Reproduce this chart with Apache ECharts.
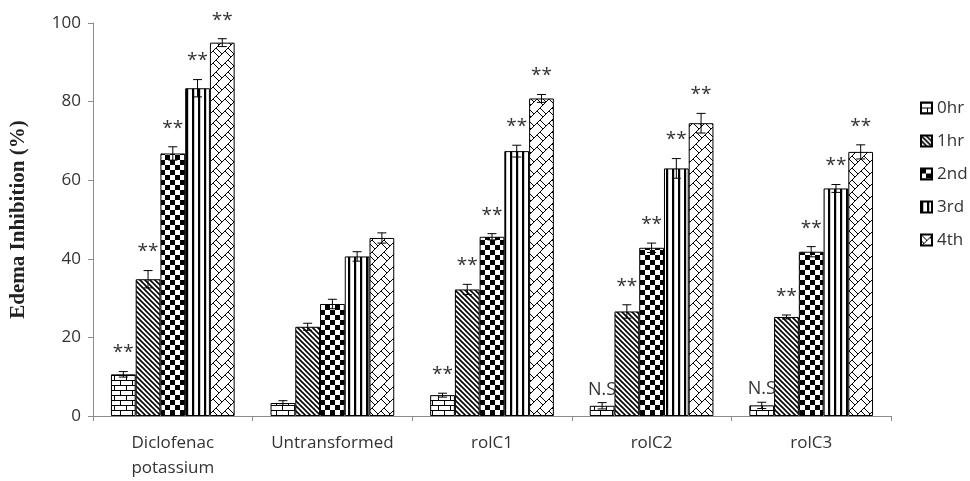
<!DOCTYPE html>
<html><head><meta charset="utf-8">
<script src="https://cdn.jsdelivr.net/npm/echarts@6/dist/echarts.min.js"></script>
<style>html,body{margin:0;padding:0;background:#fff}#c{width:970px;height:481px}</style>
</head><body><div id="c"></div>
<script>
// ---- data ----
const categories = ['Diclofenac\npotassium', 'Untransformed', 'rolC1', 'rolC2', 'rolC3'];
const seriesNames = ['0hr', '1hr', '2nd', '3rd', '4th'];
const v0hr = [10.6, 3.3, 5.3, 2.6, 2.7];
const v1hr = [34.8, 22.7, 32.2, 26.6, 25.2];
const v2nd = [66.8, 28.5, 45.6, 42.8, 41.8];
const v3rd = [83.4, 40.6, 67.4, 63.0, 57.9];
const v4th = [95.0, 45.3, 80.8, 74.5, 67.2];
const e0hr = [0.7, 0.6, 0.5, 0.8, 0.8];
const e1hr = [2.2, 0.9, 1.3, 1.7, 0.5];
const e2nd = [1.7, 1.2, 0.8, 1.2, 1.3];
const e3rd = [2.2, 1.2, 1.5, 2.5, 1.0];
const e4th = [1.0, 1.3, 1.0, 2.5, 1.8];
const s0hr = ['**', '', '**', 'N.S', 'N.S'];
const s1hr = ['**', '', '**', '**', '**'];
const s2nd = ['**', '', '**', '**', '**'];
const s3rd = ['**', '', '**', '**', '**'];
const s4th = ['**', '', '**', '**', '**'];
const yTicks = [0, 20, 40, 60, 80, 100];

const values = [v0hr, v1hr, v2nd, v3rd, v4th];
const errors = [e0hr, e1hr, e2nd, e3rd, e4th];
const sigs = [s0hr, s1hr, s2nd, s3rd, s4th];

// ---- patterns ----
function pat(w, h, draw) {
  const c = document.createElement('canvas');
  c.width = w; c.height = h;
  const g = c.getContext('2d');
  g.fillStyle = '#fff'; g.fillRect(0, 0, w, h);
  g.strokeStyle = '#000'; g.fillStyle = '#000';
  draw(g, w, h);
  return c;
}
const patterns = [
  pat(12, 10, (g) => { // brick
    g.lineWidth = 1;
    g.beginPath();
    g.moveTo(0, 0.5); g.lineTo(12, 0.5);
    g.moveTo(0, 5.5); g.lineTo(12, 5.5);
    g.moveTo(0.5, 0); g.lineTo(0.5, 5.5);
    g.moveTo(6.5, 5.5); g.lineTo(6.5, 10);
    g.stroke();
  }),
  pat(5, 5, (g) => { // downward diagonal
    g.lineWidth = 1.6;
    g.beginPath();
    g.moveTo(-1, -1); g.lineTo(6, 6);
    g.moveTo(-1, 4); g.lineTo(1, 6);
    g.moveTo(4, -1); g.lineTo(6, 1);
    g.stroke();
  }),
  pat(10, 10, (g) => { // checker
    g.fillRect(0, 0, 5, 5); g.fillRect(5, 5, 5, 5);
  }),
  pat(6, 6, (g) => { // vertical stripes
    g.fillRect(0, 0, 2.2, 6);
  }),
  pat(12, 12, (g) => { // diagonal brick
    g.lineWidth = 1;
    g.beginPath();
    for (const ox of [-12, 0, 12]) for (const oy of [-12, 0, 12]) {
      g.moveTo(0 + ox, 12 + oy); g.lineTo(12 + ox, 0 + oy);
      g.moveTo(0 + ox, 0 + oy); g.lineTo(6 + ox, 6 + oy);
      g.moveTo(9 + ox, 3 + oy); g.lineTo(15 + ox, 9 + oy);
    }
    g.stroke();
  })
];

const FONT = 'Open Sans';
const CAT_GAP = 0.225;

const series = [];
seriesNames.forEach((name, si) => {
  series.push({
    name: name, type: 'bar',
    data: values[si],
    barCategoryGap: (CAT_GAP * 100) + '%', barGap: '0%',
    itemStyle: { color: { image: patterns[si], repeat: 'repeat' }, borderColor: '#000', borderWidth: 1 },
    emphasis: { disabled: true },
    z: 2
  });
});
seriesNames.forEach((name, si) => {
  series.push({
    type: 'custom', z: 10, silent: true,
    data: values[si].map((v, i) => [i, v, errors[si][i]]),
    renderItem: function (params, api) {
      const ci = api.value(0), v = api.value(1), e = api.value(2);
      const sig = sigs[si][params.dataIndex];
      const band = api.size([1, 0])[0];
      const gw = band * (1 - CAT_GAP);
      const bw = gw / 5;
      const x = api.coord([ci, 0])[0] - gw / 2 + bw * (si + 0.5);
      const yT = api.coord([ci, v + e])[1];
      const yB = api.coord([ci, v - e])[1];
      const cap = 4.5;
      const st = { stroke: '#000', lineWidth: 1 };
      const children = [
        { type: 'line', shape: { x1: x, y1: yT, x2: x, y2: yB }, style: st },
        { type: 'line', shape: { x1: x - cap, y1: yT, x2: x + cap, y2: yT }, style: st },
        { type: 'line', shape: { x1: x - cap, y1: yB, x2: x + cap, y2: yB }, style: st }
      ];
      if (sig) {
        const isNS = sig === 'N.S';
        children.push({
          type: 'text',
          style: {
            text: sig, x: x, y: yT - (isNS ? 4 : 9),
            align: 'center', verticalAlign: 'bottom',
            font: (isNS ? '18px ' : '19px ') + '"' + FONT + '"',
            fill: '#333'
          }
        });
      }
      return { type: 'group', children: children };
    }
  });
});

const chart = echarts.init(document.getElementById('c'), null, { renderer: 'canvas' });
chart.setOption({
  animation: false,
  backgroundColor: '#fff',
  grid: { left: 92, right: 79, top: 23, bottom: 61, containLabel: false },
  legend: {
    data: seriesNames,
    orient: 'vertical', left: 915, top: 93,
    itemWidth: 11, itemHeight: 11, itemGap: 13,
    icon: 'rect',
    textStyle: { fontFamily: FONT, fontSize: 17, color: '#333', lineHeight: 20 },
    selectedMode: false
  },
  xAxis: {
    type: 'category', data: categories,
    axisLine: { lineStyle: { color: '#8c8c8c', width: 1 } },
    axisTick: { show: true, length: 5, lineStyle: { color: '#8c8c8c' } },
    axisLabel: { fontFamily: FONT, fontSize: 17, color: '#333', lineHeight: 25, margin: 15 }
  },
  yAxis: {
    type: 'value', min: yTicks[0], max: yTicks[yTicks.length - 1], interval: 20,
    splitLine: { show: false },
    axisLine: { show: true, lineStyle: { color: '#8c8c8c', width: 1 } },
    axisTick: { show: true, length: 5, lineStyle: { color: '#8c8c8c' } },
    axisLabel: { fontFamily: FONT, fontSize: 17, color: '#333', margin: 12 },
    name: 'Edema Inhibition (%)', nameLocation: 'middle', nameGap: 64, nameRotate: 90,
    nameTextStyle: { fontFamily: 'Liberation Serif', fontWeight: 'bold', fontSize: 21, color: '#222' }
  },
  series: series
});
</script></body></html>
